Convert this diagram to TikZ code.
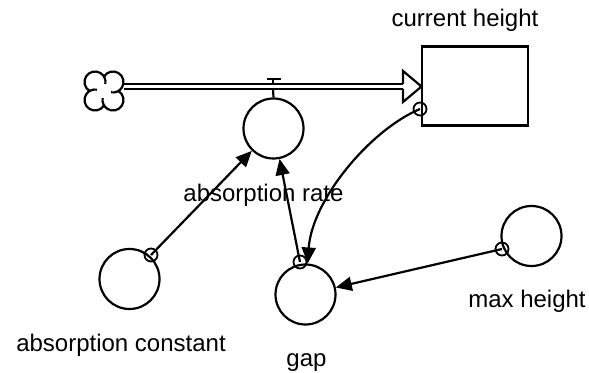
\documentclass[tikz,border=0pt]{standalone}
\usepackage{fontspec}
\setmainfont{Liberation Sans}
\usetikzlibrary{arrows.meta,calc}
\tikzset{
  aux/.style={circle, draw, minimum size=30pt, inner sep=0pt, line width=1.1pt},
  origin/.style={circle, draw, minimum size=6.5pt, inner sep=0pt, line width=0.9pt},
  stockbox/.style={draw, rectangle, minimum width=53pt, minimum height=39.5pt, inner sep=0pt, line width=1.1pt},
  lbl/.style={anchor=base, inner sep=0pt, font=\fontsize{12}{14}\selectfont},
  conn/.style={line width=1.1pt, -{Triangle[length=8pt,width=7pt]}},
  pipe/.style={line width=0.85pt, double distance=1.6pt},
  plain/.style={line width=1.1pt}
}
\begin{document}
\begin{tikzpicture}[x=0.5pt, y=-0.5pt]
\useasboundingbox (0,0) rectangle (589,373);

% stock
\node[stockbox] (stock) at (475,86) {};
\node[lbl] (stocklbl) at (465,26.7) {current height};

% cloud
\coordinate (cloud) at (104,91);
\foreach \cx/\cy/\a in {9/-9/211, 9/9/301, -9/9/391, -9/-9/481}{
  \draw[plain] ($(cloud)+(\cx,\cy)$) ++(\a:10.5) arc[start angle=\a, end angle=\a+249, radius=10.5];
}

% pipe
\coordinate (pipestart) at (124,86.5);
\coordinate (pipeend) at (403,86.5);
\draw[pipe] (pipestart) -- (pipeend);
\fill[white] (403,71) -- (421.5,86.5) -- (403,102) -- cycle;
\draw[plain, line join=miter] (403,84) -- (403,71) -- (421.5,86.5) -- (403,102) -- (403,89);

% auxiliaries
\node[aux] (rate) at (273.5,128.5) {};
\node[lbl] (ratelbl) at (263.5,201.7) {absorption rate};
\node[aux] (const) at (129.5,279) {};
\node[lbl] (constlbl) at (121,351.7) {absorption constant};
\node[aux] (gap) at (305.5,294.5) {};
\node[lbl] (gaplbl) at (306.5,366.7) {gap};
\node[aux] (max) at (531.5,236) {};
\node[lbl] (maxlbl) at (527,308) {max height};

% valve
\coordinate (valve) at (273,79.3);
\draw[plain] (267,79.3) -- (281,79.3);
\draw[plain] (valve) -- (273,84);
\draw[plain] (273,89) -- (rate.north);

% connector origins
\node[origin] (ocs) at (420,109) {};
\node[origin] (oconst) at (151,255) {};
\node[origin] (ogap) at (300,262) {};
\node[origin] (omax) at (502,249) {};

% connectors
\draw[conn] (oconst.center) -- (rate);
\draw[conn] (ogap.center) -- (rate);
\draw[conn] (omax.center) -- (gap);
\draw[conn] (ocs.center) .. controls (370,130) and (312,200) .. (gap);
\end{tikzpicture}
\end{document}
